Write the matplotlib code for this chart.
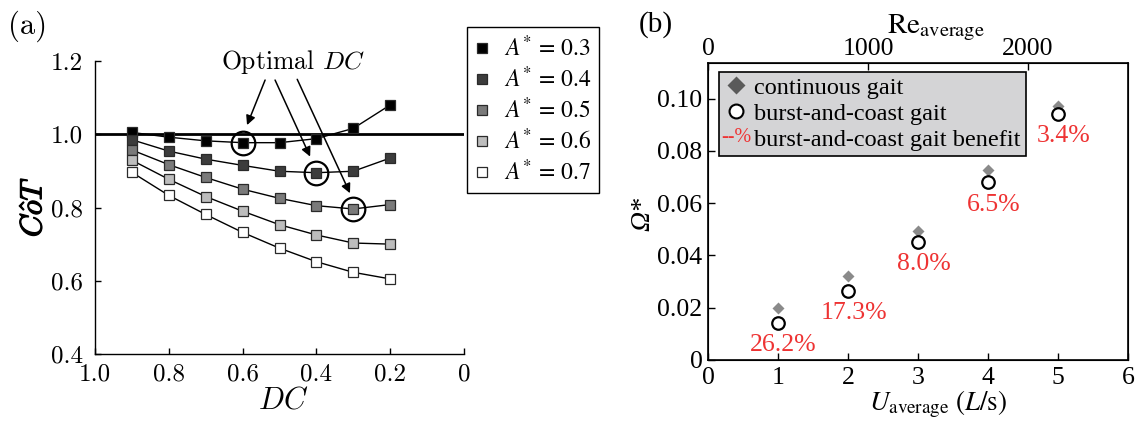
import matplotlib
matplotlib.use("Agg")
import matplotlib.pyplot as plt
import matplotlib.patheffects as pe
from matplotlib.lines import Line2D
from matplotlib.font_manager import FontProperties

# ---------------- data: panel (a) ----------------
dc = [0.9, 0.8, 0.7, 0.6, 0.5, 0.4, 0.3, 0.2]
cot_a03 = [1.005, 0.992, 0.982, 0.977, 0.977, 0.988, 1.016, 1.080]
cot_a04 = [0.985, 0.954, 0.932, 0.915, 0.899, 0.895, 0.899, 0.935]
cot_a05 = [0.957, 0.917, 0.882, 0.850, 0.825, 0.805, 0.796, 0.808]
cot_a06 = [0.929, 0.877, 0.830, 0.790, 0.753, 0.725, 0.703, 0.700]
cot_a07 = [0.896, 0.833, 0.781, 0.732, 0.689, 0.652, 0.623, 0.605]
amp_labels = [r'$A^{*}\,=\,0.3$', r'$A^{*}\,=\,0.4$', r'$A^{*}\,=\,0.5$',
              r'$A^{*}\,=\,0.6$', r'$A^{*}\,=\,0.7$']
optimal_dc = [0.6, 0.4, 0.3]
optimal_cot = [0.977, 0.895, 0.796]
a_xticks = [1.0, 0.8, 0.6, 0.4, 0.2, 0.0]
a_xticklabels = ['1.0', '0.8', '0.6', '0.4', '0.2', '0']
a_yticks = [0.4, 0.6, 0.8, 1.0, 1.2]
a_yticklabels = ['0.4', '0.6', '0.8', '1.0', '1.2']

# ---------------- data: panel (b) ----------------
u_avg = [1, 2, 3, 4, 5]
omega_continuous = [0.0197, 0.0321, 0.0493, 0.0726, 0.0973]
omega_burst = [0.0143, 0.0265, 0.0452, 0.0679, 0.0940]
benefit_labels = ['26.2%', '17.3%', '8.0%', '6.5%', '3.4%']
b_xticks = [0, 1, 2, 3, 4, 5, 6]
b_yticks = [0, 0.02, 0.04, 0.06, 0.08, 0.10]
b_yticklabels = ['0', '0.02', '0.04', '0.06', '0.08', '0.10']
re_ticks = [0, 1000, 2000]
re_max = 2625

W, H = 1136, 421
fig = plt.figure(figsize=(W / 100, H / 100), dpi=100)

def fx(px):
    return px / W

def fy(py):
    return 1 - py / H

CM = 'cmr10'
TR = 'Liberation Serif'
RED = '#ee3333'

# ================= panel (a) =================
axa = fig.add_axes([fx(95), fy(354), fx(464 - 95), (354 - 61) / H])
series = [cot_a03, cot_a04, cot_a05, cot_a06, cot_a07]
fills = ['#000000', '#3c3c3c', '#7a7a7a', '#bdbdbd', '#ffffff']
handles = []
for ys, fc, lab in zip(series, fills, amp_labels):
    ln, = axa.plot(dc, ys, '-s', color='black', lw=1.0, ms=6.5,
                   mfc=fc, mec='#2a2a2a', mew=0.9, label=lab, zorder=3)
    handles.append(ln)
axa.axhline(1.0, color='black', lw=2.0, zorder=2)
axa.plot(optimal_dc, optimal_cot, 'o', ms=17, mfc='none', mec='black',
         mew=1.6, zorder=4)
axa.set_xlim(1.0, 0.0)
axa.set_ylim(0.4, 1.2)
axa.spines['top'].set_visible(False)
axa.spines['right'].set_visible(False)
for s in ['left', 'bottom']:
    axa.spines[s].set_linewidth(1.0)
axa.set_xticks(a_xticks)
axa.set_xticklabels(a_xticklabels, fontfamily=CM, fontsize=18)
axa.set_yticks(a_yticks)
axa.set_yticklabels(a_yticklabels, fontfamily=CM, fontsize=18)
axa.tick_params(direction='in', length=4, width=1.0)
axa.tick_params(axis='y', pad=9)
axa.tick_params(axis='x', pad=7)

# annotation
axa.text(0.463, 1.198, r'Optimal $DC$', fontfamily=CM, fontsize=18.5,
         math_fontfamily='cm', ha='center', va='center')
tails = [(0.539, 1.148), (0.512, 1.148), (0.452, 1.150)]
heads = [(0.588, 1.025), (0.417, 0.939), (0.309, 0.839)]
for t, h in zip(tails, heads):
    axa.annotate('', xy=h, xytext=t,
                 arrowprops=dict(arrowstyle='-|>', color='black', lw=1.1,
                                 mutation_scale=14, shrinkA=0, shrinkB=0))

bold = [pe.withStroke(linewidth=0.9, foreground='black')]
fig.text(fx(33), fy(207), r'$C\hat{o}T$', rotation=90, fontsize=22,
         math_fontfamily='cm', ha='center', va='center', path_effects=bold)
fig.text(fx(283), fy(400), r'$DC$', fontsize=22, math_fontfamily='cm',
         ha='center', va='center')
fig.text(fx(28), fy(26), '(a)', fontfamily=CM, fontsize=22,
         ha='center', va='center')

lega = fig.legend(handles=handles, loc='upper left',
                  bbox_to_anchor=(fx(467), fy(27)), bbox_transform=fig.transFigure,
                  prop=FontProperties(family=TR, size=17, math_fontfamily='stix'),
                  frameon=True, fancybox=False, edgecolor='black', framealpha=1,
                  handlelength=0.6, handletextpad=0.6, labelspacing=0.23,
                  borderpad=0.35, borderaxespad=0)
lega.get_frame().set_linewidth(1.0)
for lh in lega.legend_handles:
    lh.set_linestyle('none')
    lh.set_markersize(6.5)

# ================= panel (b) =================
axb = fig.add_axes([fx(708), fy(360), fx(1128 - 708), (360 - 63) / H])
axb.plot(u_avg, omega_continuous, 'D', ms=6.5, color='#8a8a8a', mec='none',
         zorder=3)
axb.plot(u_avg, omega_burst, 'o', ms=9, mfc='white', mec='black', mew=1.6,
         zorder=4)
for u, o, lab in zip(u_avg, omega_burst, benefit_labels):
    axb.annotate(lab, xy=(u, o), xytext=(4, -16), textcoords='offset points',
                 ha='center', va='center', color=RED, fontfamily=TR,
                 fontsize=18.5)
axb.set_xlim(0, 6)
axb.set_ylim(0, 0.1136)
axb.set_xticks(b_xticks)
axb.set_xticklabels([str(v) for v in b_xticks], fontfamily=TR, fontsize=18.5)
axb.set_yticks(b_yticks)
axb.set_yticklabels(b_yticklabels, fontfamily=TR, fontsize=18.5)
axb.tick_params(direction='in', length=5, width=1.0)
axb.tick_params(axis='y', pad=4)
axb.tick_params(axis='x', pad=5)
for s in axb.spines.values():
    s.set_linewidth(1.2)

axt = axb.twiny()
axt.set_xlim(0, re_max)
axt.set_xticks(re_ticks)
axt.set_xticklabels([str(v) for v in re_ticks], fontfamily=TR, fontsize=18.5)
axt.tick_params(direction='in', length=5, width=1.0, pad=2)

fig.text(fx(936), fy(28), r'$\mathrm{Re}_{\mathrm{average}}$', fontsize=21,
         math_fontfamily='stix', ha='center', va='center')
fig.text(fx(938), fy(404), r'$U_{\mathrm{average}}\ (L/\mathrm{s})$', fontsize=19.5,
         math_fontfamily='stix', ha='center', va='center')
fig.text(fx(643), fy(214), 'Ω*', rotation=90, fontsize=20, fontfamily=TR,
         style='italic', ha='center', va='center')
fig.text(fx(656), fy(25), '(b)', fontfamily=TR, fontsize=21,
         ha='center', va='center')

hb = [Line2D([], [], ls='none', marker='D', ms=9, color='#5a5a5a', mec='none'),
      Line2D([], [], ls='none', marker='o', ms=10, mfc='white', mec='black', mew=1.5),
      Line2D([], [], ls='none', marker='')]
legb = axb.legend(hb, ['continuous gait', 'burst-and-coast gait',
                       'burst-and-coast gait benefit'],
                  loc='upper left', bbox_to_anchor=(fx(719), fy(72)),
                  bbox_transform=fig.transFigure,
                  prop=FontProperties(family=TR, size=17.5),
                  frameon=True, fancybox=False, facecolor='#d4d4d6',
                  edgecolor='black', framealpha=1,
                  handlelength=1.0, handletextpad=0.25, labelspacing=0.16,
                  borderpad=0.2, borderaxespad=0)
legb.get_frame().set_linewidth(1.2)
fig.text(fx(736), fy(137), '--%', color=RED, fontfamily=TR, fontsize=14.5,
         ha='center', va='center')

fig.savefig('out.png', dpi=100)
